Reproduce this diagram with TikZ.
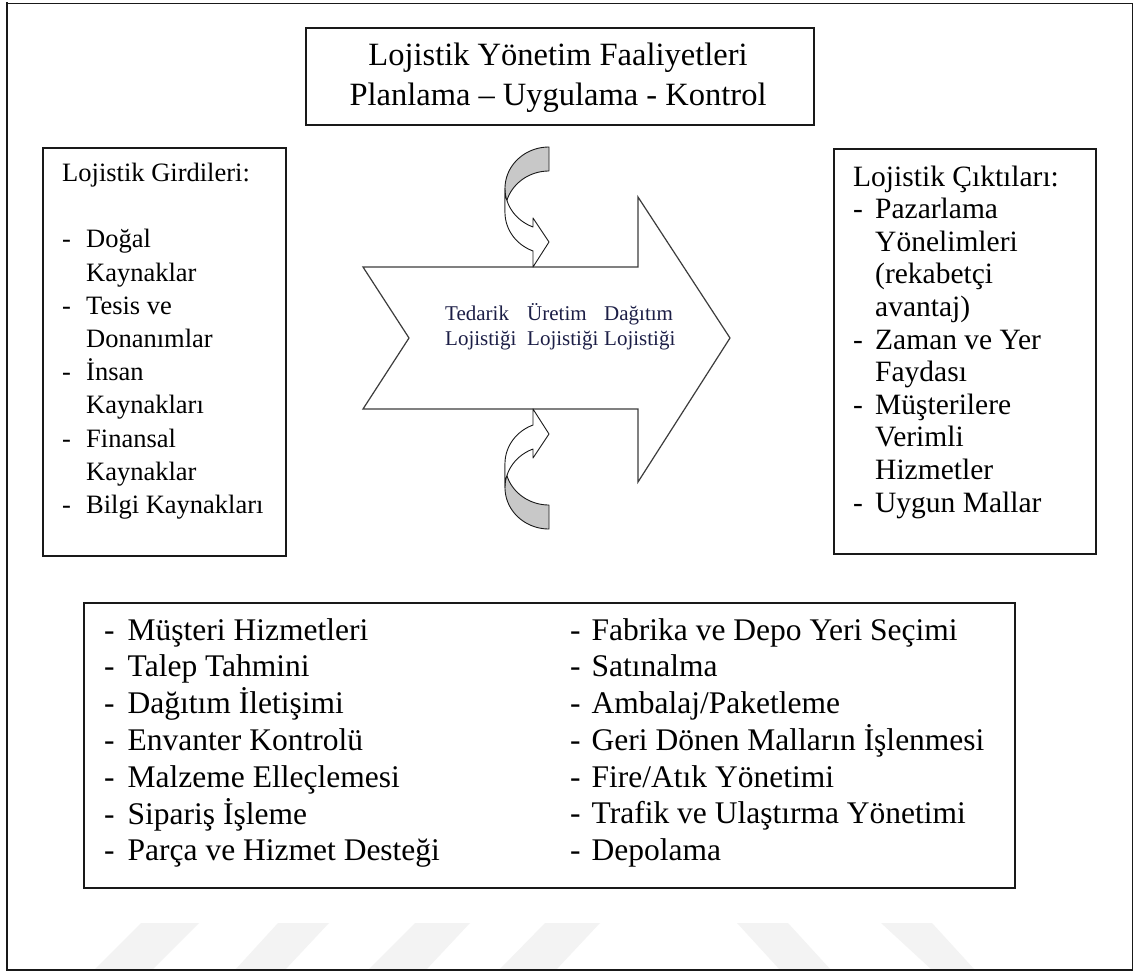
\documentclass[tikz,border=0pt]{standalone}
\usepackage{fontspec}
\setmainfont{Liberation Serif}
\definecolor{inkline}{RGB}{25,25,25}
\definecolor{backshade}{RGB}{200,200,200}
\definecolor{flowtext}{RGB}{28,30,70}
\definecolor{wmark}{RGB}{243,243,243}
\newcommand{\dashitem}[2]{\makebox[#1][l]{-}#2}
% curved band arrow; #1 = 1 above the flow arrow, -1 mirrored below it
\newcommand{\curlband}[1]{%
  \filldraw[curl, fill=backshade]
    plot[domain=270:180, samples=40] ({549+44*cos(\x)},{338+(#1)*(-149.6+41.4*sin(\x))})
    -- plot[domain=180:270, samples=40] ({549+44*cos(\x)},{338+(#1)*(-125.6+41.4*sin(\x))})
    -- cycle;
  \filldraw[curl, fill=white]
    plot[domain=180:111.3, samples=40] ({549+44*cos(\x)},{338+(#1)*(-149.6+41.4*sin(\x))})
    -- (533,{338+(#1)*(-120)}) -- (549,{338+(#1)*(-96)}) -- (533,{338+(#1)*(-71)})
    -- (533,{338+(#1)*(-87)})
    -- plot[domain=111.3:180, samples=40] ({549+44*cos(\x)},{338+(#1)*(-125.6+41.4*sin(\x))})
    -- cycle;
}

\begin{document}
\begin{tikzpicture}[x=1pt,y=-1pt,
  panel/.style={draw=inkline, line width=1.5pt, fill=white, inner sep=0pt, anchor=north west},
  txt/.style={anchor=base west, inner sep=0pt, text=black},
  flow/.style={draw=inkline!85, line width=1.2pt, fill=white, line join=miter},
  curl/.style={draw=inkline, line width=0.9pt, line join=round},
]
\useasboundingbox (0,0) rectangle (1133,972);
\fill[white] (0,0) rectangle (1133,972);

% faint stripes along the bottom edge
\fill[wmark] (141,923) -- (199,923) -- (152,970) -- (94,970) -- cycle;
\fill[wmark] (278,923) -- (329,923) -- (285,970) -- (235,970) -- cycle;
\fill[wmark] (415,923) -- (470,923) -- (426,970) -- (368,970) -- cycle;
\fill[wmark] (545,923) -- (600,923) -- (556,970) -- (499,970) -- cycle;
\fill[wmark] (737,923) -- (788,923) -- (831,970) -- (780,970) -- cycle;
\fill[wmark] (881,923) -- (932,923) -- (975,970) -- (932,970) -- cycle;

% outer frame
\draw[inkline, line width=1pt] (7,3) -- (1132,3) -- (1132,970);
\draw[inkline, line width=2pt] (7,2) -- (7,970) -- (1133,970);

% panels
\node[panel, minimum width=508pt, minimum height=97pt] (plan) at (305,27) {};
\node[panel, minimum width=243pt, minimum height=408pt] (inputs) at (42,147) {};
\node[panel, minimum width=262pt, minimum height=405pt] (outputs) at (833,148) {};
\node[panel, minimum width=931pt, minimum height=285pt] (tasks) at (83,602) {};

% title
\node[txt, anchor=base, font=\fontsize{32.5}{40}\selectfont] (title1) at (558,65) {Lojistik Yönetim Faaliyetleri};
\node[txt, anchor=base, font=\fontsize{32.5}{40}\selectfont] (title2) at (558,105) {Planlama – Uygulama - Kontrol};

% inputs
\node[txt, font=\fontsize{26.5}{33.2}\selectfont] (inlist) at (62,181.5) {\begin{tabular}[t]{@{}l@{}}
Lojistik Girdileri:\\
\\
\dashitem{24pt}{Doğal}\\
\hspace*{24pt}Kaynaklar\\
\dashitem{24pt}{Tesis ve}\\
\hspace*{24pt}Donanımlar\\
\dashitem{24pt}{İnsan}\\
\hspace*{24pt}Kaynakları\\
\dashitem{24pt}{Finansal}\\
\hspace*{24pt}Kaynaklar\\
\dashitem{24pt}{Bilgi Kaynakları}
\end{tabular}};

% outputs
\node[txt, font=\fontsize{29.5}{32.6}\selectfont] (outlist) at (853,186) {\begin{tabular}[t]{@{}l@{}}
Lojistik Çıktıları:\\
\dashitem{22pt}{Pazarlama}\\
\hspace*{22pt}Yönelimleri\\
\hspace*{22pt}(rekabetçi\\
\hspace*{22pt}avantaj)\\
\dashitem{22pt}{Zaman ve Yer}\\
\hspace*{22pt}Faydası\\
\dashitem{22pt}{Müşterilere}\\
\hspace*{22pt}Verimli\\
\hspace*{22pt}Hizmetler\\
\dashitem{22pt}{Uygun Mallar}
\end{tabular}};

% central flow arrow
\draw[flow] (363,267) -- (638,267) -- (638,197) -- (730,338) -- (638,482)
  -- (638,409) -- (363,409) -- (409,338) -- cycle;

\node[txt, text=flowtext, font=\fontsize{21}{25}\selectfont] (supply) at (445,320.5)
  {\begin{tabular}[t]{@{}l@{}}Tedarik\\Lojistiği\end{tabular}};
\node[txt, text=flowtext, font=\fontsize{21}{25}\selectfont] (production) at (527,320.5)
  {\begin{tabular}[t]{@{}l@{}}Üretim\\Lojistiği\end{tabular}};
\node[txt, text=flowtext, font=\fontsize{21}{25}\selectfont] (distribution) at (604,320.5)
  {\begin{tabular}[t]{@{}l@{}}Dağıtım\\Lojistiği\end{tabular}};

% curved arrows above and below the flow
\curlband{1}
\curlband{-1}

% activities
\node[txt, font=\fontsize{31.5}{36.7}\selectfont] (actleft) at (104,640) {\begin{tabular}[t]{@{}l@{}}
\dashitem{23.5pt}{Müşteri Hizmetleri}\\
\dashitem{23.5pt}{Talep Tahmini}\\
\dashitem{23.5pt}{Dağıtım İletişimi}\\
\dashitem{23.5pt}{Envanter Kontrolü}\\
\dashitem{23.5pt}{Malzeme Elleçlemesi}\\
\dashitem{23.5pt}{Sipariş İşleme}\\
\dashitem{23.5pt}{Parça ve Hizmet Desteği}
\end{tabular}};
\node[txt, font=\fontsize{31.5}{36.7}\selectfont] (actright) at (570,640) {\begin{tabular}[t]{@{}l@{}}
\dashitem{21.5pt}{Fabrika ve Depo Yeri Seçimi}\\
\dashitem{21.5pt}{Satınalma}\\
\dashitem{21.5pt}{Ambalaj/Paketleme}\\
\dashitem{21.5pt}{Geri Dönen Malların İşlenmesi}\\
\dashitem{21.5pt}{Fire/Atık Yönetimi}\\
\dashitem{21.5pt}{Trafik ve Ulaştırma Yönetimi}\\
\dashitem{21.5pt}{Depolama}
\end{tabular}};
\end{tikzpicture}
\end{document}
